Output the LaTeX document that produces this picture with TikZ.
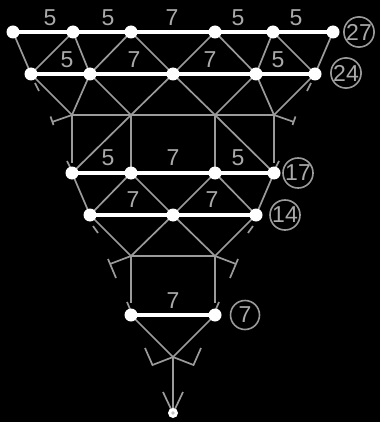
\documentclass[tikz,border=0pt]{standalone}
\usepackage{fontspec}
\setmainfont{Liberation Sans}
\definecolor{lgray}{RGB}{155,155,155}
\definecolor{tgray}{RGB}{170,170,170}
\newcommand{\wfont}{\fontsize{23}{23}\selectfont}
\newcommand{\cfont}{\fontsize{23}{23}\selectfont}
\tikzset{
  dot/.style={circle,fill=white,draw=none,inner sep=0pt,minimum size=13pt},
  enddot/.style={circle,fill=white,draw=none,inner sep=0pt,minimum size=10pt},
  gl/.style={draw=lgray,line width=1.7pt},
  wl/.style={draw=white,line width=3.5pt},
  wt/.style={text=tgray,font=\wfont,inner sep=0pt},
  ct/.style={circle,draw=lgray,line width=1.6pt,text=tgray,font=\cfont,inner sep=0pt,minimum size=29pt},
}
\begin{document}
\begin{tikzpicture}[x=1pt,y=-1pt]
\fill[black] (0,0) rectangle (380,422);
\useasboundingbox (0,0) rectangle (380,422);
% rows of nodes
\coordinate (a1) at (13,32);\coordinate (a2) at (73,32);\coordinate (a3) at (131,32);
\coordinate (a4) at (215,32);\coordinate (a5) at (273,32);\coordinate (a6) at (333,32);
\coordinate (b1) at (31,74);\coordinate (b2) at (90,74);\coordinate (b3) at (173,74);
\coordinate (b4) at (256,74);\coordinate (b5) at (315,74);
\coordinate (j1) at (72,115);\coordinate (j2) at (131,115);\coordinate (j3) at (215,115);\coordinate (j4) at (274,115);
\coordinate (c1) at (72,173);\coordinate (c2) at (131,173);\coordinate (c3) at (215,173);\coordinate (c4) at (274,173);
\coordinate (d1) at (90,215);\coordinate (d2) at (173,215);\coordinate (d3) at (256,215);
\coordinate (k1) at (131,256);\coordinate (k2) at (215,256);
\coordinate (e1) at (131,315);\coordinate (e2) at (215,315);
\coordinate (m) at (173,357);
\coordinate (z) at (173,413);
% gray edges
\draw[gl] (a1)--(b1) (a2)--(b1) (a2)--(b2) (a3)--(b2) (a3)--(b3) (a4)--(b3) (a4)--(b4) (a5)--(b4) (a5)--(b5) (a6)--(b5);
\draw[gl] (b1)--(j1) (b2)--(j1) (b2)--(j2) (b3)--(j2) (b3)--(j3) (b4)--(j3) (b4)--(j4) (b5)--(j4);
\draw[gl] (j1)--(j4);
\draw[gl] (j1)--(72,163) (j2)--(c2) (j3)--(c3) (j4)--(274,163);
\draw[gl] (j2)--(c1) (j3)--(c4);
\draw[gl] (c1)--(d1) (c2)--(d1) (c2)--(d2) (c3)--(d2) (c3)--(d3) (c4)--(d3);
\draw[gl] (d1)--(k1) (d2)--(k1) (d2)--(k2) (d3)--(k2);
\draw[gl] (k1)--(k2);
\draw[gl] (k1)--(131,303) (k2)--(215,303);
\draw[gl] (e1)--(m) (e2)--(m);
\draw[gl] (m)--(z);
% small marks
\draw[gl] (35,83)--(39,91) (311,83)--(307,91);
\coordinate (ta1) at (52,122);\coordinate (ta2) at (294,122);
\draw[gl] (j1)--(ta1) (50.5,116.5)--(53.5,125);
\draw[gl] (j4)--(ta2) (295.5,116.5)--(292.5,125);
\draw[gl] (67,161)--(71,169) (279,161)--(275,169);
\draw[gl] (93,226)--(98,233) (253,226)--(248,233);
\coordinate (tb1) at (110,264);\coordinate (tb2) at (236,264);
\draw[gl] (k1)--(tb1) (108,259)--(116,278);
\draw[gl] (k2)--(tb2) (238,259)--(230,278);
\draw[gl] (127,302)--(130,309) (219,302)--(216,309);
\coordinate (tc1) at (152.5,365);\coordinate (tc2) at (193.5,365);
\draw[gl] (m)--(tc1)--(145,348);
\draw[gl] (m)--(tc2)--(201,348);
\draw[gl] (163,392)--(171.5,410) (183,392)--(174.5,410);
% white edges
\draw[wl] (a1)--(a6);
\draw[wl] (b1)--(b5);
\draw[wl] (c1)--(c4);
\draw[wl] (d1)--(d3);
\draw[wl] (e1)--(e2);
% nodes
\foreach \p in {a1,a2,a3,a4,a5,a6,b1,b2,b3,b4,b5,c1,c2,c3,c4,d1,d2,d3,e1,e2}
  \node[dot] (n\p) at (\p) {};
\node[enddot] (nz) at (z) {};
\fill[lgray!60] (z) circle (1.8pt);
% weight labels
\node[wt] (l1) at (50,18) {5};
\node[wt] (l2) at (108,18) {5};
\node[wt] (l3) at (172,18) {7};
\node[wt] (l4) at (238,18) {5};
\node[wt] (l5) at (296,18) {5};
\node[wt] (l6) at (67,60) {5};
\node[wt] (l7) at (134,60) {7};
\node[wt] (l8) at (210,60) {7};
\node[wt] (l9) at (278,60) {5};
\node[wt] (l10) at (108,158) {5};
\node[wt] (l11) at (173,158) {7};
\node[wt] (l12) at (238,158) {5};
\node[wt] (l13) at (133,200) {7};
\node[wt] (l14) at (212,200) {7};
\node[wt] (l15) at (173,301) {7};
% circled totals
\node[ct] (s1) at (359,32) {27};
\node[ct] (s2) at (346,73) {24};
\node[ct] (s3) at (298,173) {17};
\node[ct] (s4) at (285,215) {14};
\node[ct] (s5) at (245,315) {7};
\end{tikzpicture}
\end{document}
